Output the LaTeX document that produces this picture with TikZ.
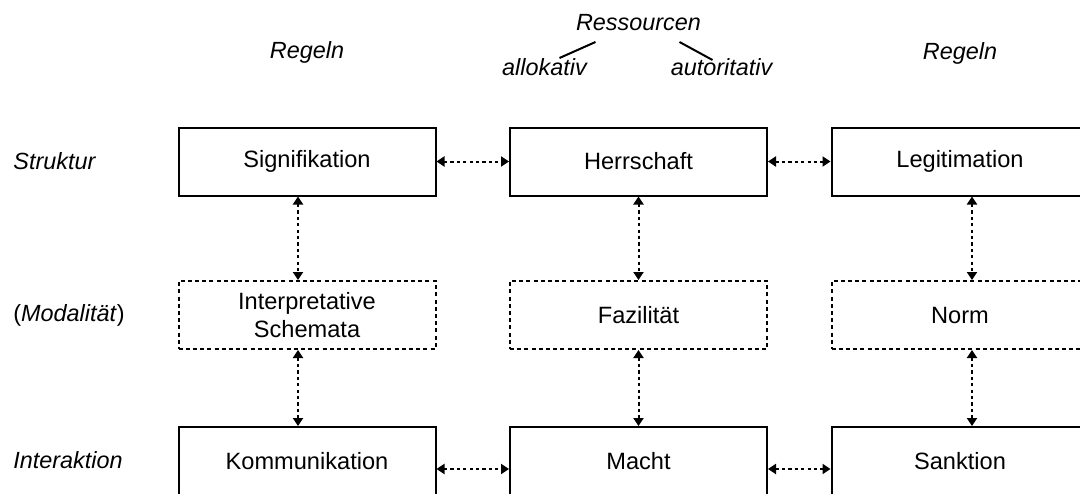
\documentclass[tikz,border=0pt]{standalone}
\usepackage{fontspec}
\setmainfont{Liberation Sans}
\usepackage{tikz}
\usetikzlibrary{arrows.meta,positioning}
\tikzstyle{field}=[draw, line width=1pt, minimum width=128.5pt, minimum height=34pt, align=center, font=\fontsize{11.8}{14}\selectfont]
\tikzstyle{modal}=[field, dash pattern=on 2pt off 1.6pt]
\tikzstyle{textbox}=[draw=none, inner sep=0pt, font=\fontsize{11.7}{14}\selectfont\itshape]
\tikzset{%
    dualarrow/.style={{Triangle[length=4pt,width=5pt]}-{Triangle[length=4pt,width=5pt]}, line width=1pt, dash pattern=on 1.6pt off 1.6pt},
    fork/.style={line width=1pt},
  }
\begin{document}
\begin{tikzpicture}[x=0.5pt, y=-0.5pt]
    \clip (0,0) rectangle (1080,493);
    % Struktur
    \node (sig) [field] at (307,161.5) {Signifikation};
    \node (herr) [field, right of=sig, node distance=165.75pt] {Herrschaft};
    \node (leg) [field, right of=herr, node distance=160.75pt] {Legitimation};
    %
    \node (interp) [modal, below of=sig, node distance=76.75pt] {Interpretative\\Schemata};
    \node (faz) [modal, below of=herr, node distance=76.75pt] {Fazilität};
    \node (norm) [modal, below of=leg, node distance=76.75pt] {Norm};
    %
    \node (komm) [field, below of=interp, node distance=73pt] {Kommunikation};
    \node (macht) [field, below of=faz, node distance=73pt] {Macht};
    \node (sankt) [field, below of=norm, node distance=73pt] {Sanktion};
    %
    \node (regel1) [textbox, above of=sig, node distance=54.75pt] {Regeln};
    \node (regel2) [textbox, above of=leg, node distance=54.25pt] {Regeln};
    \node (res) [textbox, above of=herr, node distance=69.25pt] {Ressourcen};
    \node (allo) [textbox, below of=res, node distance=22pt, xshift=-47pt] {allokativ};
    \node (auto) [textbox, below of=res, node distance=22pt, xshift=41.5pt] {autoritativ};
    \draw [fork] ([xshift=-21.5pt, yshift=-9.5pt]res.center) -- ([xshift=7.5pt, yshift=4.5pt]allo.center);
    \draw [fork] ([xshift=20.5pt, yshift=-9.5pt]res.center) -- ([xshift=-4.5pt, yshift=3.5pt]auto.center);
    %
    \node (label1) [textbox, anchor=west] at (13,161.5) {Struktur};
    \node (label2) [textbox, anchor=west, font=\fontsize{11.7}{14}\selectfont] at (13,315) {(\textit{Modalität})};
    \node (label3) [textbox, anchor=west] at (13,460) {Interaktion};
    %
    \draw [dualarrow] (sig.east) -- (herr.west);
    \draw [dualarrow] (herr.east) -- (leg.west);
    \draw [dualarrow] ([yshift=-4pt]komm.east) -- ([yshift=-4pt]macht.west);
    \draw [dualarrow] ([yshift=-4pt]macht.east) -- ([yshift=-4pt]sankt.west);
    %
    \draw [dualarrow] ([xshift=-4.5pt]sig.south) -- ([xshift=-4.5pt]interp.north);
    \draw [dualarrow] ([xshift=-4.5pt]interp.south) -- ([xshift=-4.5pt]komm.north);
    \draw [dualarrow] (herr.south) -- (faz.north);
    \draw [dualarrow] (faz.south) -- (macht.north);
    \draw [dualarrow] ([xshift=6pt]leg.south) -- ([xshift=6pt]norm.north);
    \draw [dualarrow] ([xshift=6pt]norm.south) -- ([xshift=6pt]sankt.north);
  \end{tikzpicture}
\end{document}
